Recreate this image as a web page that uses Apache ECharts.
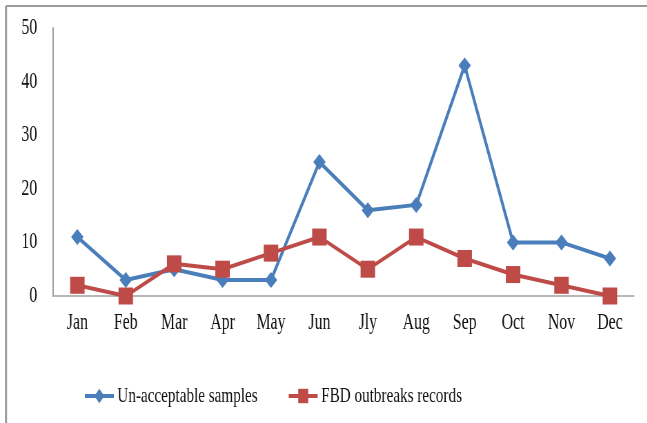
<!DOCTYPE html>
<html><head><meta charset="utf-8">
<script src="https://cdn.jsdelivr.net/npm/echarts@6/dist/echarts.min.js"></script>
<style>html,body{margin:0;padding:0;background:#fff;overflow:hidden}
#c{width:938px;height:423px;transform:scaleX(0.69);transform-origin:0 0}</style>
</head><body><div id="c"></div>
<script>
const months = ['Jan','Feb','Mar','Apr','May','Jun','Jly','Aug','Sep','Oct','Nov','Dec'];
const unacceptable = [11,3,5,3,3,25,16,17,43,10,10,7];
const fbd = [2,0,6,5,8,11,5,11,7,4,2,0];
const yTicks = [0,10,20,30,40,50];
const font = 'Liberation Serif';
const chart = echarts.init(document.getElementById('c'));
chart.setOption({
  animation:false,
  backgroundColor:'#fff',
  graphic:[
    {type:'line',shape:{x1:8.7,y1:6,x2:938,y2:6},style:{stroke:'#9a9a9a',lineWidth:2}},
    {type:'line',shape:{x1:8.7,y1:6,x2:8.7,y2:423},style:{stroke:'#9a9a9a',lineWidth:3}}
  ],
  grid:{left:77,right:19,top:28,bottom:127,containLabel:false},
  legend:{left:116,top:380,itemWidth:42,itemHeight:18,itemGap:43,
    lineStyle:{width:4},
    textStyle:{fontFamily:font,fontSize:22,color:'#111'},
    data:['Un-acceptable samples','FBD outbreaks records']},
  xAxis:{type:'category',data:months,boundaryGap:true,
    axisLine:{lineStyle:{color:'#a0a0a0',width:1.5}},axisTick:{show:false},
    axisLabel:{fontFamily:font,fontSize:23,color:'#111',margin:15,interval:0}},
  yAxis:{type:'value',min:0,max:50,interval:10,
    axisLine:{show:true,lineStyle:{color:'#a0a0a0',width:2}},axisTick:{show:false},splitLine:{show:false},
    axisLabel:{fontFamily:font,fontSize:23,color:'#111',margin:23,
      formatter:v=>yTicks.includes(v)?String(v):''}},
  series:[
    {name:'Un-acceptable samples',type:'line',data:unacceptable,symbol:'diamond',symbolSize:[18,16],
      lineStyle:{color:'#4a7ebb',width:4},itemStyle:{color:'#4a7ebb'}},
    {name:'FBD outbreaks records',type:'line',data:fbd,symbol:'rect',symbolSize:[21,17],
      lineStyle:{color:'#be4b48',width:4},itemStyle:{color:'#be4b48'}}
  ]
});
</script></body></html>
